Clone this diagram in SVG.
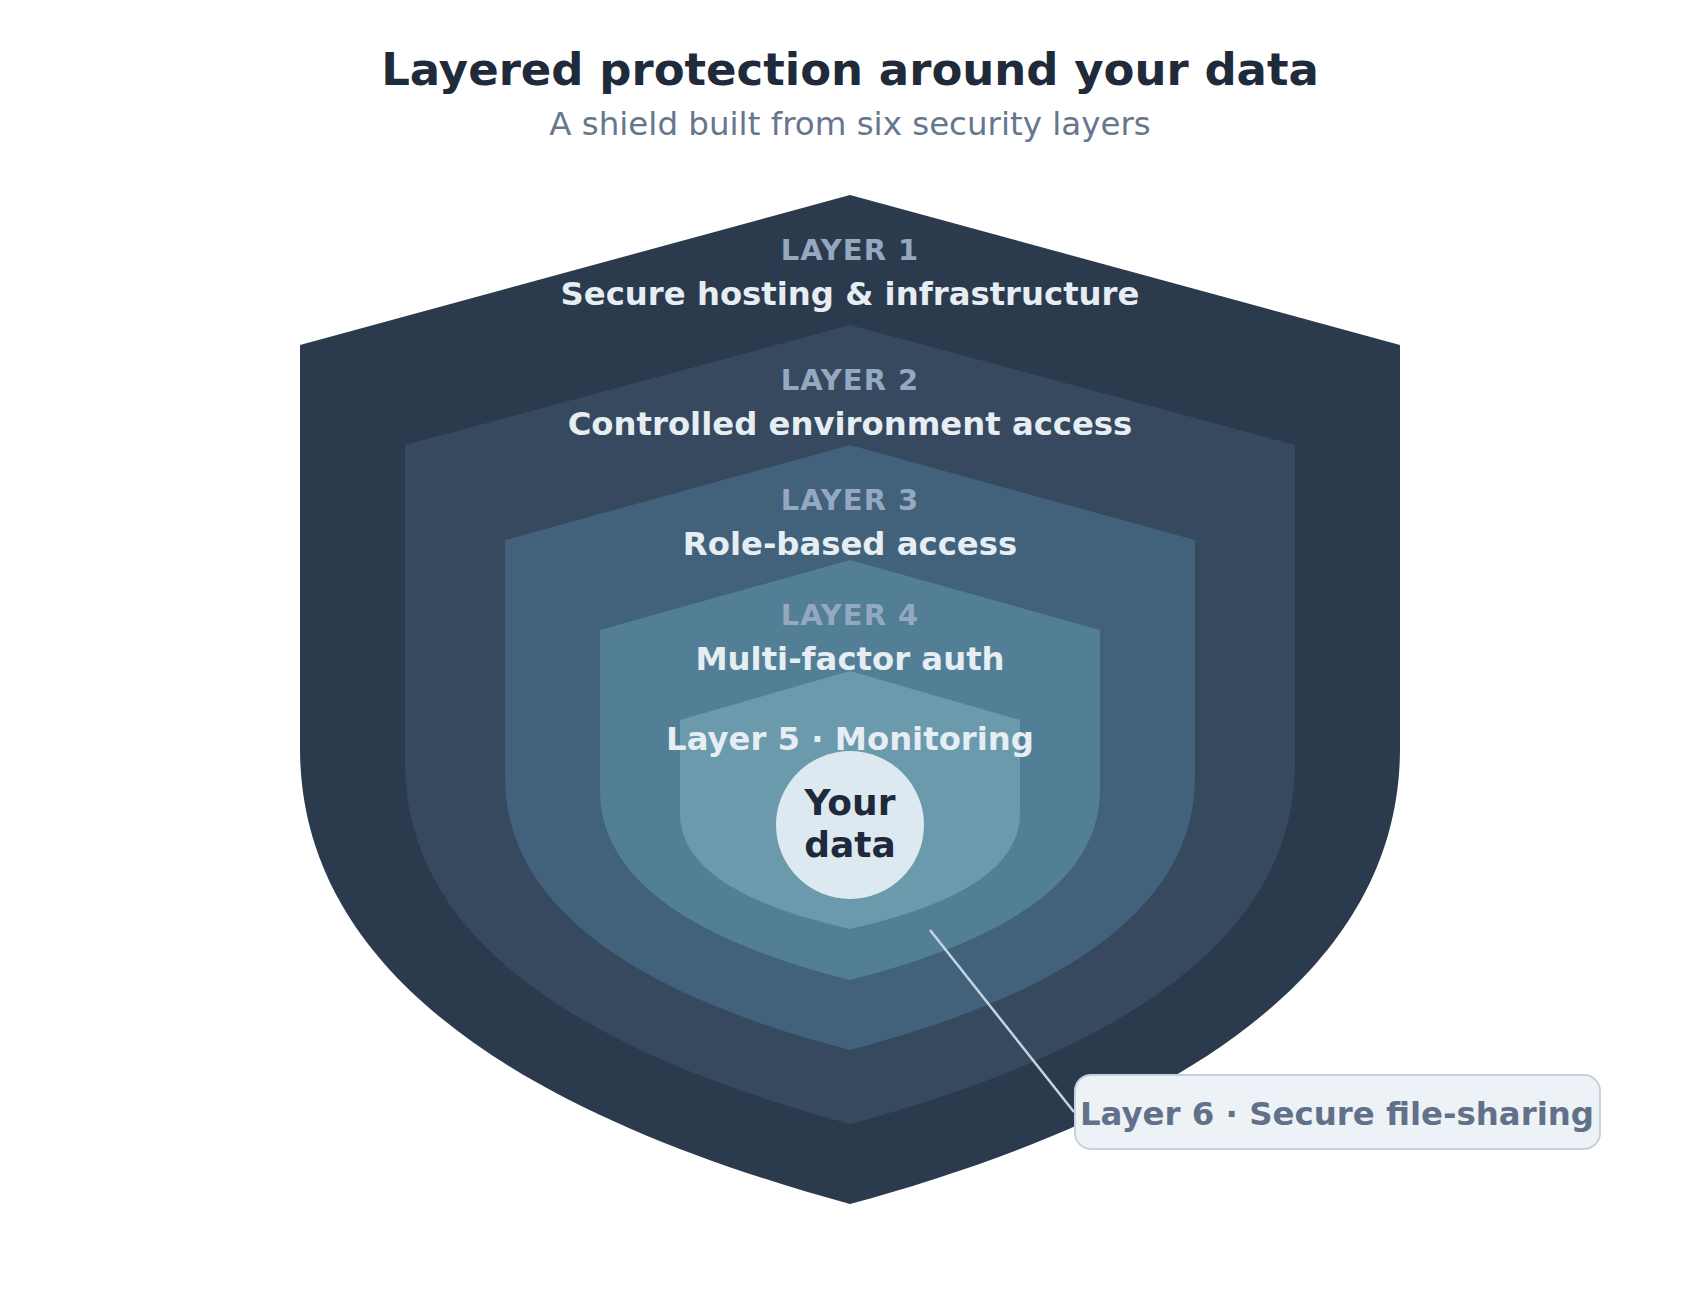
<svg xmlns="http://www.w3.org/2000/svg" width="1700" height="1300" viewBox="0 0 1700 1300">
  <style>
    .t { font-family: "DejaVu Sans", "Liberation Sans", sans-serif; text-anchor: middle; }
    .title { font-size: 45px; font-weight: bold; fill: #1f2a3a; }
    .sub { font-size: 32.5px; fill: #66768d; }
    .lab { font-size: 29px; font-weight: bold; fill: #94a8c0; letter-spacing: 1px; }
    .name { font-size: 32.3px; font-weight: bold; fill: #e6edf3; }
    .core { font-size: 36px; font-weight: bold; fill: #1e2a3b; }
    .l6 { font-size: 32.4px; font-weight: bold; fill: #617189; }
  </style>
  <rect width="1700" height="1300" fill="#ffffff"/>
  <text class="t title" x="850" y="85">Layered protection around your data</text>
  <text class="t sub" x="850" y="135">A shield built from six security layers</text>

  <g id="layer1">
    <path d="M850,195 L1400,345 L1400,748 C1400,1000 1120,1130 850,1204 C580,1130 300,1000 300,748 L300,345 Z" fill="#2c3a4e"/>
    <text class="t lab" x="850" y="260">LAYER 1</text>
    <text class="t name" x="850" y="305">Secure hosting &amp; infrastructure</text>
  </g>
  <g id="layer2">
    <path d="M850,325 L1295,445 L1295,763 C1295,963 1068,1065 850,1124 C632,1065 405,963 405,763 L405,445 Z" fill="#36495e"/>
    <text class="t lab" x="850" y="390">LAYER 2</text>
    <text class="t name" x="850" y="435">Controlled environment access</text>
  </g>
  <g id="layer3">
    <path d="M850,445 L1195,540 L1195,777 C1195,928 1019,1006 850,1050 C681,1006 505,928 505,777 L505,540 Z" fill="#41627a"/>
    <text class="t lab" x="850" y="510">LAYER 3</text>
    <text class="t name" x="850" y="555">Role-based access</text>
  </g>
  <g id="layer4">
    <path d="M850,560 L1100,630 L1100,790 C1100,895 972,949 850,980 C728,949 600,895 600,790 L600,630 Z" fill="#527f96"/>
    <text class="t lab" x="850" y="625">LAYER 4</text>
    <text class="t name" x="850" y="670">Multi-factor auth</text>
  </g>
  <g id="layer5">
    <path d="M850,671 L1020,720 L1020,813 C1020,878 933,910 850,929 C767,910 680,878 680,813 L680,720 Z" fill="#6a9aab"/>
    <text class="t name" x="850" y="750">Layer 5 · Monitoring</text>
  </g>
  <g id="core">
    <circle cx="850" cy="825" r="74" fill="#dde9f0"/>
    <text class="t core" x="850" y="815">Your</text>
    <text class="t core" x="850" y="857">data</text>
  </g>
  <g id="connectors">
    <line x1="930" y1="930" x2="1074" y2="1112" stroke="#c8d4e0" stroke-width="2.5"/>
  </g>
  <g id="layer6">
    <rect x="1075" y="1075" width="525" height="74" rx="16" fill="#edf2f7" stroke="#c5d3e0" stroke-width="2"/>
    <text class="t l6" x="1337" y="1125">Layer 6 · Secure file-sharing</text>
  </g>
</svg>
